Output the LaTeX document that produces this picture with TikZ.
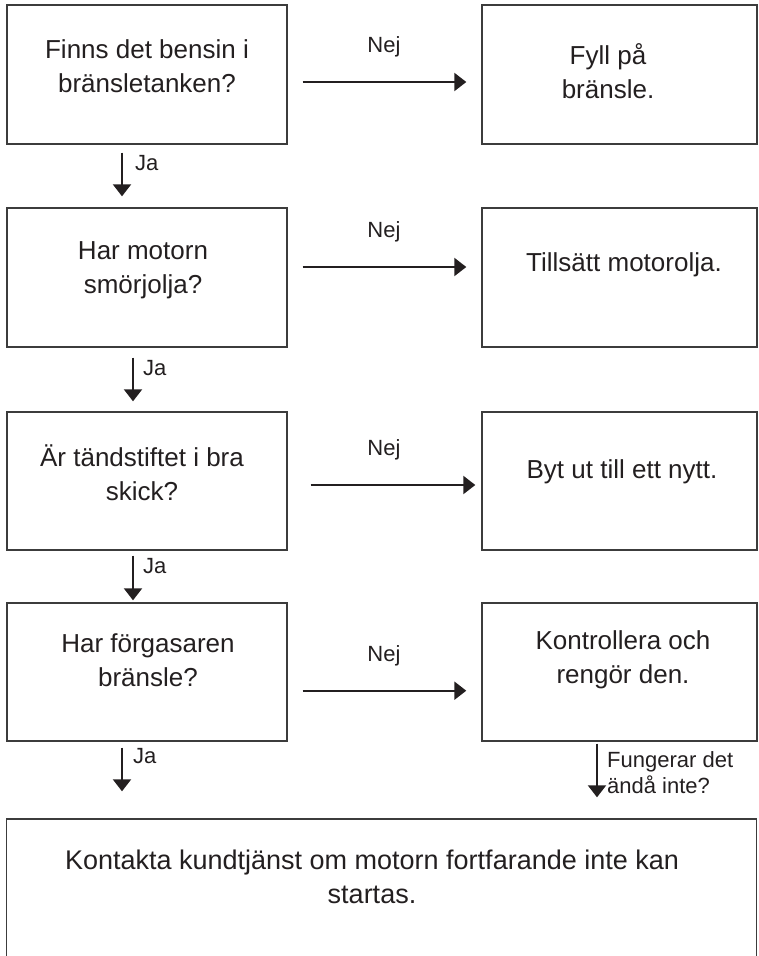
\documentclass[tikz,border=0pt]{standalone}
\usepackage{fontspec}
\setmainfont{Liberation Sans}
\usetikzlibrary{arrows.meta}

\definecolor{ink}{HTML}{231F20}
\definecolor{boxgray}{HTML}{3C3C3C}

\begin{document}
\begin{tikzpicture}[x=1pt, y=-1pt,
		box/.style={draw=boxgray, line width=1.4pt, minimum width=280pt, minimum height=139pt, inner sep=0pt},
		ansbox/.style={box, minimum width=275pt},
		txt/.style={align=center, text=ink, font=\fontsize{26}{34}\selectfont},
		lbl/.style={text=ink, inner sep=0pt, font=\fontsize{22}{26}\selectfont},
		arr/.style={-{Triangle[length=12pt, width=18pt]}, line width=2.2pt, draw=ink}]
			\useasboundingbox (0, 0) rectangle (758, 956);
			
			% fragor till vanster, atgarder till hoger
			\node[box] (q1) at (147, 74.5) {};
			\node[ansbox] (a1) at (619.5, 74.5) {};
			\node[box] (q2) at (147, 277.5) {};
			\node[ansbox] (a2) at (619.5, 277.5) {};
			\node[box, minimum height=138pt] (q3) at (147, 481) {};
			\node[ansbox, minimum height=138pt] (a3) at (619.5, 481) {};
			\node[box, minimum height=138pt] (q4) at (147, 672) {};
			\node[ansbox, minimum height=138pt] (a4) at (619.5, 672) {};
			\node[box, minimum width=750pt, minimum height=160pt] (kund) at (381.5, 899) {};
			
			\node[txt] (t1) at (147, 66) {Finns det bensin i\\bränsletanken?};
			\node[txt] (s1) at (608, 71) {Fyll på\\bränsle.};
			\node[txt] (t2) at (143, 270) {Har motorn\\smörjolja?};
			\node[txt] (s2) at (624, 265) {Tillsätt motorolja.};
			\node[txt] (t3) at (142, 473) {Är tändstiftet i bra\\skick?};
			\node[txt] (s3) at (622, 472) {Byt ut till ett nytt.};
			\node[txt] (t4) at (148, 660) {Har förgasaren\\bränsle?};
			\node[txt] (s4) at (623, 660) {Kontrollera och\\rengör den.};
			\node[txt, font=\fontsize{27}{34}\selectfont] (tk) at (372, 876.5) {Kontakta kundtjänst om motorn fortfarande inte kan\\startas.};
			
			% nej-pilar
			\draw[arr, shorten <=15pt, shorten >=15pt] ([yshift=-7.5pt]q1.east) -- ([yshift=-7.5pt]a1.west);
			\draw[arr, shorten <=15pt, shorten >=15pt] ([yshift=10.5pt]q2.east) -- ([yshift=10.5pt]a2.west);
			\draw[arr, shorten <=23pt, shorten >=6pt] ([yshift=-4pt]q3.east) -- ([yshift=-4pt]a3.west);
			\draw[arr, shorten <=15pt, shorten >=15pt] ([yshift=-18.7pt]q4.east) -- ([yshift=-18.7pt]a4.west);
			\node[lbl, anchor=base] (n1) at (384, 52) {Nej};
			\node[lbl, anchor=base] (n2) at (384, 237) {Nej};
			\node[lbl, anchor=base] (n3) at (384, 455) {Nej};
			\node[lbl, anchor=base] (n4) at (384, 661) {Nej};
			
			% ja-pilar
			\draw[arr, shorten <=8pt, shorten >=11pt] ([xshift=-25pt]q1.south) -- ([xshift=-25pt]q2.north);
			\draw[arr, shorten <=10pt, shorten >=10pt] ([xshift=-14pt]q2.south) -- ([xshift=-14pt]q3.north);
			\draw[arr, shorten <=5pt, shorten >=2pt] ([xshift=-14pt]q3.south) -- ([xshift=-14pt]q4.north);
			\draw[arr, shorten <=6pt, shorten >=27pt] ([xshift=-25pt]q4.south) -- ([xshift=-25pt]q4.south |- kund.north);
			\draw[arr, shorten <=2pt, shorten >=21pt] ([xshift=-22.5pt]a4.south) -- ([xshift=-22.5pt]a4.south |- kund.north);
			\node[lbl, anchor=base west] (j1) at (135, 170) {Ja};
			\node[lbl, anchor=base west] (j2) at (143, 375) {Ja};
			\node[lbl, anchor=base west] (j3) at (143, 573) {Ja};
			\node[lbl, anchor=base west] (j4) at (133, 763) {Ja};
			\node[lbl, anchor=north west, align=left] (fu) at (607, 751) {Fungerar det\\ändå inte?};
\end{tikzpicture}
\end{document}
